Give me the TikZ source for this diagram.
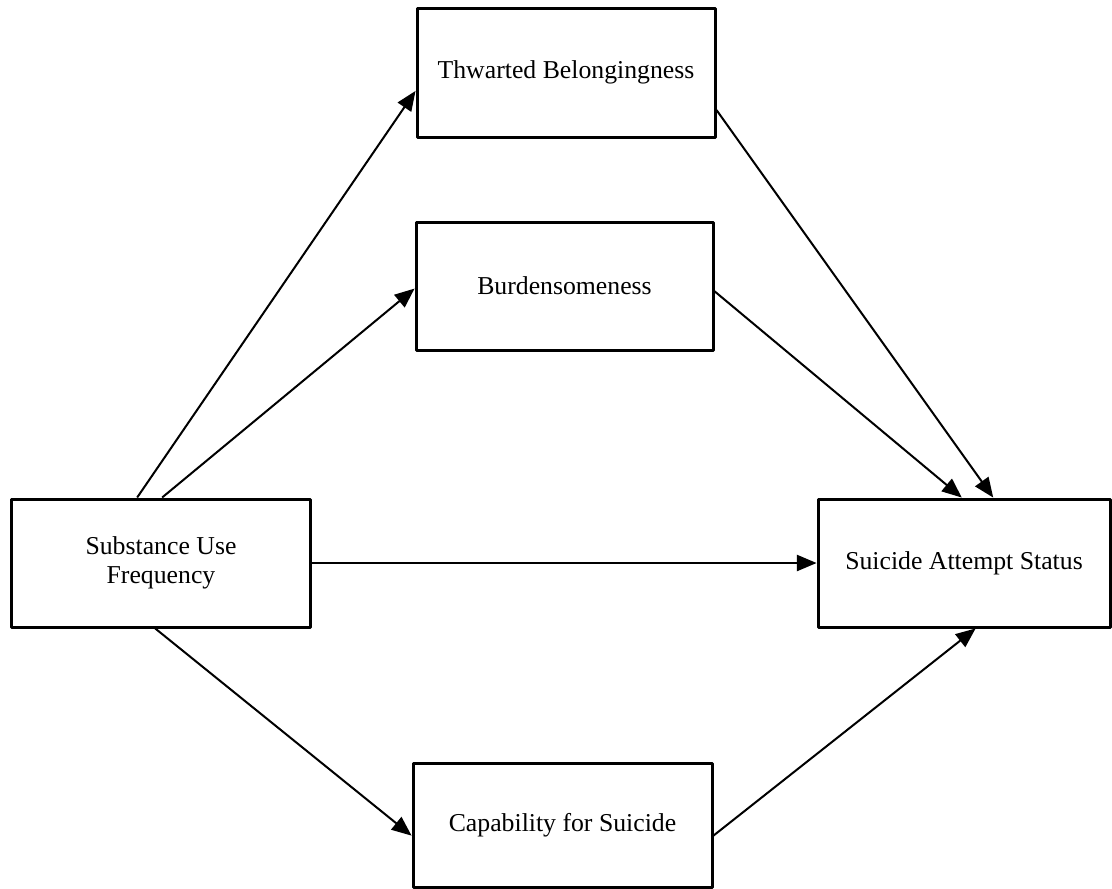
\documentclass[tikz,border=0pt]{standalone}
\usepackage{fontspec}
\setmainfont{Liberation Serif}
\usetikzlibrary{arrows}

\tikzset{kasten/.style={draw,line width=1.2pt,align=center,inner sep=0pt,
  font=\fontsize{10.3}{11.8}\selectfont}}

\begin{document}
\begin{tikzpicture}[line join=round,>=triangle 45,x=0.4pt,y=-0.4pt]
     \useasboundingbox (0,0) rectangle (1112,888); % Rahmen

     \node[kasten,minimum width=119.2pt,minimum height=51.6pt] (tb)  at (566,72.5) {Thwarted Belongingness};
     \node[kasten,minimum width=118.8pt,minimum height=51.2pt] (bur) at (564.5,286) {Burdensomeness};
     \node[kasten,minimum width=119.2pt,minimum height=51.2pt] (suf) at (161,563)  {Substance Use\\Frequency};
     \node[kasten,minimum width=116.8pt,minimum height=51.2pt] (sas) at (964,563)  {Suicide Attempt Status};
     \node[kasten,minimum width=119.6pt,minimum height=49.6pt] (cap) at (562.5,825) {Capability for Suicide};

     \draw[->,line width=0.8pt] (suf.110) -- (tb.187);  % Pfeil oben
     \draw[->,line width=0.8pt] (suf.89)  -- (bur.181); % Pfeil mitte
     \draw[->,line width=0.8pt] (suf.east) -- (sas.west); % direkt
     \draw[->,line width=0.8pt] (suf.265) -- (cap.184); % Pfeil unten

     \draw[->,line width=0.8pt] (tb.346)  -- (sas.66);
     \draw[->,line width=0.8pt] (bur.358) -- (sas.92);
     \draw[->,line width=0.8pt] (cap.356) -- (sas.280);
\end{tikzpicture}
\end{document}
